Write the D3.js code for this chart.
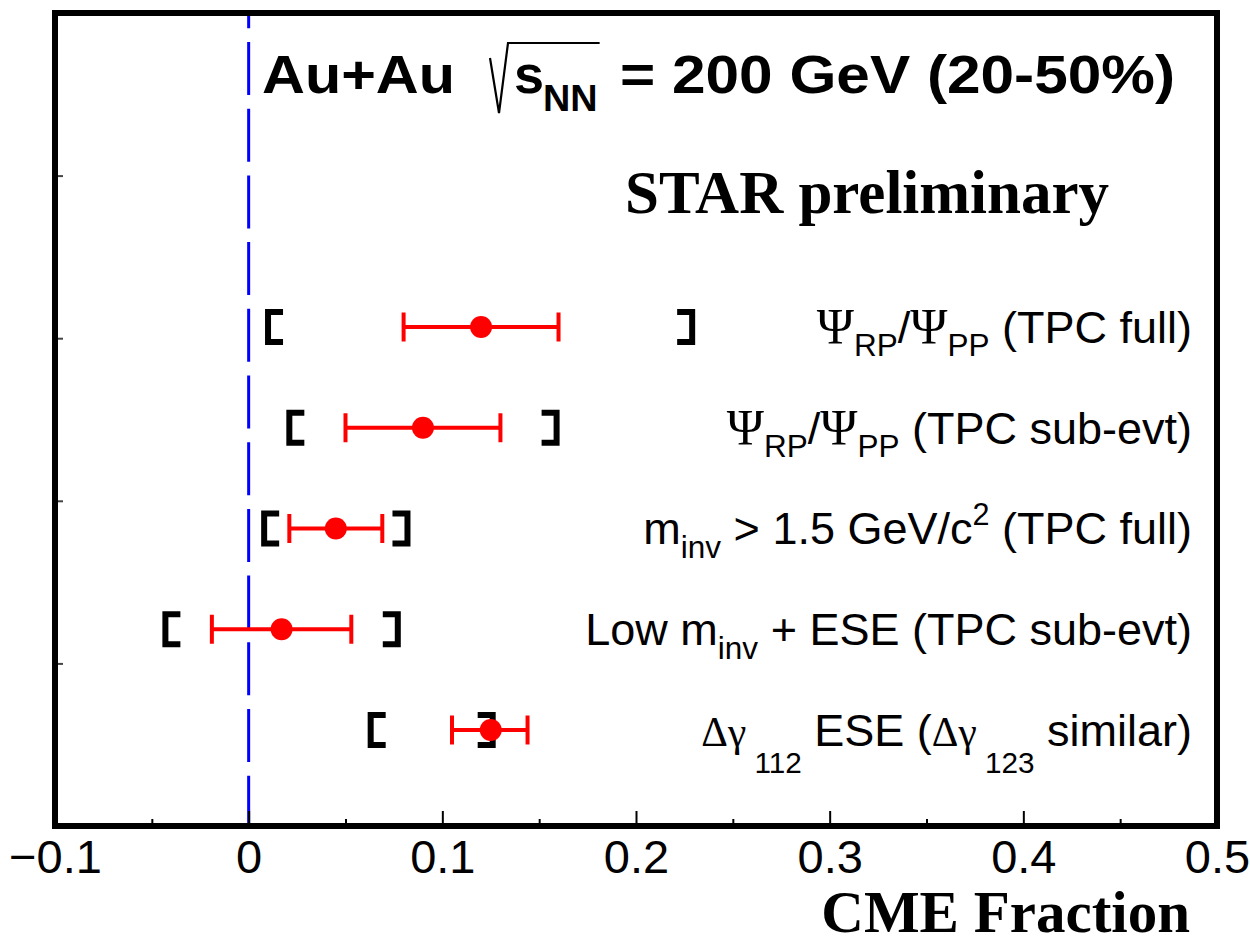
<!DOCTYPE html>
<html>
<head>
<meta charset="utf-8">
<script src="https://cdn.jsdelivr.net/npm/d3@7"></script>
<style>
  body { margin: 0; background: #fff; }
  text { fill: #000; }
</style>
</head>
<body>
<svg id="chart" width="1250" height="945"></svg>
<script>
// Measurement labels (rich text: [text, kind]) — kinds: n, psi, sym, sub, sub2, sup
const rowLabels = [
  [["Ψ", "psi"], ["RP", "sub"], ["/", "n"], ["Ψ", "psi"], ["PP", "sub"], [" (TPC full)", "n"]],
  [["Ψ", "psi"], ["RP", "sub"], ["/", "n"], ["Ψ", "psi"], ["PP", "sub"], [" (TPC sub-evt)", "n"]],
  [["m", "n"], ["inv", "sub"], [" > 1.5 GeV/c", "n"], ["2", "sup"], [" (TPC full)", "n"]],
  [["Low m", "n"], ["inv", "sub"], [" + ESE (TPC sub-evt)", "n"]],
  [["Δγ", "sym"], [" 112", "sub2"], [" ESE (", "n"], ["Δγ", "sym"], [" 123", "sub2"], [" similar)", "n"]]
];

// CME fraction central values, statistical range, systematic range
const values   = [0.120, 0.090, 0.045, 0.017, 0.125];
const statLow  = [0.080, 0.050, 0.021, -0.019, 0.105];
const statHigh = [0.160, 0.130, 0.069, 0.053, 0.144];
const sysLow   = [0.010, 0.021, 0.008, -0.043, 0.063];
const sysHigh  = [0.229, 0.159, 0.082, 0.077, 0.126];

const xTickValues = [-0.1, 0, 0.1, 0.2, 0.3, 0.4, 0.5];
const xTickLabels = ["−0.1", "0", "0.1", "0.2", "0.3", "0.4", "0.5"];
const xMinorTicks = [-0.05, 0.05, 0.15, 0.25, 0.35, 0.45];
const yTickFractions = [0.2, 0.4, 0.6, 0.8];

const svg = d3.select("#chart");
const frame = { left: 55, right: 1217, top: 13, bottom: 826 };

const x = d3.scaleLinear().domain([-0.1, 0.5]).range([frame.left, frame.right]);
const yFrac = d3.scaleLinear().domain([0, 1]).range([frame.bottom, frame.top]);
const rowIdx = d3.range(rowLabels.length);
const y = d3.scalePoint().domain(rowIdx).range([327, 730]);

// Reference line at zero
svg.append("line")
  .attr("x1", x(0)).attr("x2", x(0))
  .attr("y1", frame.top).attr("y2", frame.bottom)
  .attr("stroke", "#0000ff").attr("stroke-width", 3)
  .attr("stroke-dasharray", "53,13.7").attr("stroke-dashoffset", 37.7);

// Bottom axis: major and minor ticks pointing inward
const axisMajor = d3.axisBottom(x).tickValues(xTickValues)
  .tickFormat((d, i) => xTickLabels[i]).tickSize(-15).tickPadding(14);
const gx = svg.append("g").attr("transform", `translate(0,${frame.bottom})`).call(axisMajor);
gx.select(".domain").remove();
gx.selectAll(".tick line").attr("stroke", "#000").attr("stroke-width", 2);
gx.selectAll(".tick text")
  .attr("dy", null).attr("y", 47)
  .style("font-family", "'Liberation Sans', Arial, sans-serif")
  .style("font-size", "47px").attr("fill", "#000");

const axisMinor = d3.axisBottom(x).tickValues(xMinorTicks).tickSize(-7).tickFormat("");
const gm = svg.append("g").attr("transform", `translate(0,${frame.bottom})`).call(axisMinor);
gm.select(".domain").remove();
gm.selectAll(".tick line").attr("stroke", "#000").attr("stroke-width", 2);

// Left axis: small inward ticks, no labels
const axisLeft = d3.axisRight(yFrac).tickValues(yTickFractions).tickSize(8).tickFormat("");
const gy = svg.append("g").attr("transform", `translate(${frame.left},0)`).call(axisLeft);
gy.select(".domain").remove();
gy.selectAll(".tick line").attr("stroke", "#444").attr("stroke-width", 2);

// Systematic brackets
const armLen = 15, halfH = 15;
const rows = svg.append("g").selectAll("g").data(rowIdx).join("g");
rows.append("path")
  .attr("d", i => `M${x(sysLow[i]) + armLen},${y(i) - halfH}H${x(sysLow[i])}V${y(i) + halfH}H${x(sysLow[i]) + armLen}`)
  .attr("fill", "none").attr("stroke", "#000").attr("stroke-width", 6);
rows.append("path")
  .attr("d", i => `M${x(sysHigh[i]) - armLen},${y(i) - halfH}H${x(sysHigh[i])}V${y(i) + halfH}H${x(sysHigh[i]) - armLen}`)
  .attr("fill", "none").attr("stroke", "#000").attr("stroke-width", 6);

// Statistical error bars with end caps
rows.append("line")
  .attr("x1", i => x(statLow[i])).attr("x2", i => x(statHigh[i]))
  .attr("y1", i => y(i)).attr("y2", i => y(i))
  .attr("stroke", "#ff0000").attr("stroke-width", 4);
rows.append("line")
  .attr("x1", i => x(statLow[i])).attr("x2", i => x(statLow[i]))
  .attr("y1", i => y(i) - 14.5).attr("y2", i => y(i) + 14.5)
  .attr("stroke", "#ff0000").attr("stroke-width", 4);
rows.append("line")
  .attr("x1", i => x(statHigh[i])).attr("x2", i => x(statHigh[i]))
  .attr("y1", i => y(i) - 14.5).attr("y2", i => y(i) + 14.5)
  .attr("stroke", "#ff0000").attr("stroke-width", 4);
rows.append("circle")
  .attr("cx", i => x(values[i])).attr("cy", i => y(i)).attr("r", 11)
  .attr("fill", "#ff0000");

// Row labels with sub/superscripts
const fs = 45;
function richText(sel, segs, size) {
  let shift = 0;
  segs.forEach(([t, kind]) => {
    let target = 0, s = size, fam = "'Liberation Sans', Arial, sans-serif";
    if (kind === "sub") { target = 0.3 * size; s = 0.7 * size; }
    if (kind === "sub2") { target = 0.6 * size; s = 0.66 * size; }
    if (kind === "sup") { target = -0.42 * size; s = 0.68 * size; }
    if (kind === "psi") { fam = "'Liberation Serif', 'Times New Roman', serif"; s = 1.12 * size; }
    if (kind === "sym") { fam = "'Liberation Serif', 'Times New Roman', serif"; s = 0.92 * size; }
    sel.append("tspan")
      .attr("dy", target - shift)
      .style("font-size", s + "px")
      .style("font-family", fam)
      .text(t);
    shift = target;
  });
}
rows.append("text")
  .attr("x", 1192).attr("y", i => y(i) + 0.35 * fs)
  .attr("text-anchor", "end")
  .style("font-family", "'Liberation Sans', Arial, sans-serif")
  .style("font-size", fs + "px")
  .style("white-space", "pre")
  .each(function (i) { richText(d3.select(this), rowLabels[i], fs); });

// Frame
svg.append("rect")
  .attr("x", frame.left).attr("y", frame.top)
  .attr("width", frame.right - frame.left).attr("height", frame.bottom - frame.top)
  .attr("fill", "none").attr("stroke", "#000").attr("stroke-width", 6);

// Header: collision system and energy
const tfs = 54;
const sans = "'Liberation Sans', Arial, sans-serif";
const head = svg.append("g").style("font-family", sans).style("font-weight", "bold");
head.append("text").attr("x", 262).attr("y", 93).style("font-size", tfs + "px")
  .attr("textLength", 193).attr("lengthAdjust", "spacingAndGlyphs").text("Au+Au");
const sX = 514;
const sText = head.append("text").attr("x", sX).attr("y", 93).style("font-size", tfs + "px").text("s");
const sW = sText.node().getComputedTextLength();
const nnText = head.append("text").attr("x", sX + sW - 1).attr("y", 111).style("font-size", (tfs * 0.7) + "px").text("NN");
const nnW = nnText.node().getComputedTextLength();
const barEnd = sX + sW + nnW + 1;
head.append("path")
  .attr("d", `M490,58L499,113L508,43L${barEnd},43`)
  .attr("fill", "none").attr("stroke", "#000").attr("stroke-width", 2.2)
  .attr("stroke-linejoin", "miter");
head.append("text").attr("x", 620).attr("y", 93).style("font-size", tfs + "px")
  .attr("textLength", 555).attr("lengthAdjust", "spacingAndGlyphs")
  .text("= 200 GeV (20-50%)");

svg.append("text")
  .attr("x", 625).attr("y", 213)
  .style("font-family", "'Liberation Serif', 'Times New Roman', serif")
  .style("font-weight", "bold").style("font-size", "61px")
  .text("STAR preliminary");

// Axis title
svg.append("text")
  .attr("x", 1190).attr("y", 932).attr("text-anchor", "end")
  .style("font-family", "'Liberation Serif', 'Times New Roman', serif")
  .style("font-weight", "bold").style("font-size", "59px")
  .text("CME Fraction");
</script>
</body>
</html>
